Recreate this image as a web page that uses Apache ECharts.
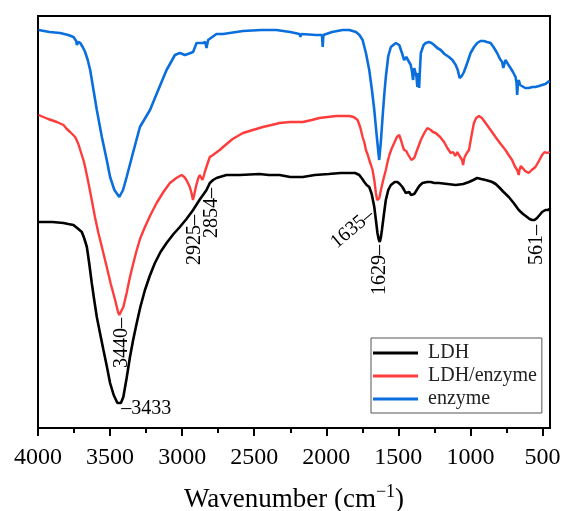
<!DOCTYPE html>
<html>
<head>
<meta charset="utf-8">
<script src="https://cdn.jsdelivr.net/npm/echarts@6/dist/echarts.min.js"></script>
<style>
  html, body { margin: 0; padding: 0; background: #fff; }
  #main { width: 563px; height: 511px; }
</style>
</head>
<body>
<div id="main"></div>
<script>
// FTIR spectra, transmittance in arbitrary units (offset stacked)
const ldhWn = [3996, 3900, 3823, 3790, 3754, 3720, 3696, 3680, 3661, 3645, 3627, 3610, 3592, 3570, 3546, 3523, 3500, 3475, 3449, 3436, 3425, 3408, 3385, 3362, 3340, 3315, 3290, 3258, 3225, 3189, 3150, 3108, 3060, 3016, 2970, 2924, 2880, 2831, 2808, 2785, 2762, 2693, 2600, 2463, 2400, 2324, 2250, 2163, 2080, 1983, 1900, 1840, 1800, 1771, 1750, 1736, 1720, 1702, 1685, 1667, 1655, 1645, 1637, 1629, 1622, 1614, 1600, 1587, 1570, 1552, 1541, 1525, 1506, 1490, 1472, 1460, 1449, 1437, 1425, 1412, 1402, 1390, 1379, 1355, 1333, 1300, 1275, 1250, 1218, 1160, 1102, 1050, 1010, 980, 953, 925, 895, 870, 849, 825, 803, 770, 734, 700, 665, 635, 607, 590, 572, 555, 538, 520, 503, 480, 462, 450];
const ldhT = [206, 206, 205, 204, 203, 199, 196, 190, 181, 165, 145, 128, 111, 95, 78, 62, 45, 33, 25, 23, 25, 31, 50, 71, 88, 105, 121, 138, 152, 165, 176, 185, 194, 201, 209, 218, 228, 238, 245, 248, 250, 253, 253, 254, 253, 253, 251, 251, 253, 254, 255, 255, 255, 253, 249, 246, 243, 241, 234, 221, 207, 195, 189, 186, 190, 198, 214, 228, 238, 243, 245, 246, 246, 244, 241, 238, 235, 237, 236, 233, 231, 234, 236, 242, 245, 246, 246, 245, 245, 244, 243, 244, 246, 248, 250, 249, 248, 247, 246, 244, 241, 236, 231, 225, 218, 214, 211, 209, 208, 208, 210, 213, 216, 218, 218, 219];

const ldhEnzWn = [3996, 3930, 3869, 3823, 3800, 3777, 3742, 3720, 3707, 3685, 3673, 3650, 3627, 3605, 3581, 3550, 3523, 3495, 3465, 3445, 3436, 3425, 3408, 3385, 3362, 3340, 3315, 3290, 3258, 3220, 3177, 3130, 3085, 3040, 3004, 2985, 2970, 2947, 2935, 2925, 2915, 2905, 2890, 2878, 2868, 2859, 2850, 2843, 2820, 2808, 2786, 2739, 2716, 2650, 2578, 2510, 2440, 2380, 2324, 2250, 2163, 2100, 2048, 1990, 1932, 1880, 1840, 1810, 1783, 1765, 1748, 1735, 1725, 1712, 1702, 1690, 1679, 1666, 1656, 1647, 1640, 1632, 1621, 1605, 1587, 1572, 1560, 1545, 1529, 1510, 1494, 1480, 1470, 1460, 1445, 1435, 1425, 1410, 1400, 1390, 1370, 1344, 1320, 1299, 1275, 1260, 1241, 1210, 1183, 1160, 1137, 1120, 1105, 1091, 1080, 1068, 1058, 1051, 1045, 1040, 1025, 1010, 993, 976, 960, 941, 920, 895, 860, 826, 790, 757, 735, 711, 693, 676, 670, 665, 660, 650, 642, 620, 596, 575, 549, 525, 503, 485, 468, 450];
const ldhEnzT = [313, 309, 306, 303, 299, 296, 291, 284, 278, 268, 261, 245, 228, 211, 195, 177, 161, 144, 128, 116, 113, 115, 121, 135, 151, 164, 178, 190, 201, 213, 225, 236, 245, 250, 253, 251, 248, 241, 235, 228, 234, 241, 249, 253, 252, 248, 252, 256, 266, 271, 273, 278, 281, 289, 295, 298, 301, 303, 305, 306, 306, 308, 310, 311, 312, 312, 312, 311, 308, 301, 291, 285, 278, 273, 268, 263, 258, 247, 235, 228, 226, 230, 238, 248, 258, 268, 274, 280, 285, 291, 293, 287, 282, 278, 277, 274, 273, 268, 270, 270, 278, 288, 295, 300, 298, 296, 295, 291, 286, 280, 275, 276, 272, 276, 273, 271, 268, 263, 268, 271, 275, 278, 292, 305, 310, 312, 310, 305, 298, 291, 284, 278, 273, 268, 262, 258, 256, 253, 258, 262, 261, 257, 255, 258, 261, 267, 273, 276, 275, 276];

const enzWn = [3996, 3920, 3846, 3790, 3754, 3735, 3730, 3722, 3707, 3690, 3673, 3655, 3638, 3615, 3592, 3557, 3523, 3500, 3470, 3436, 3410, 3385, 3345, 3293, 3223, 3166, 3108, 3050, 3016, 2981, 2960, 2924, 2900, 2870, 2855, 2840, 2831, 2820, 2808, 2762, 2716, 2578, 2450, 2347, 2250, 2186, 2180, 2174, 2071, 2030, 2025, 2020, 1960, 1887, 1840, 1794, 1770, 1748, 1725, 1702, 1685, 1667, 1650, 1633, 1629, 1622, 1610, 1598, 1587, 1570, 1552, 1535, 1517, 1494, 1475, 1460, 1445, 1437, 1414, 1405, 1398, 1390, 1384, 1375, 1368, 1362, 1356, 1348, 1344, 1325, 1310, 1287, 1270, 1252, 1230, 1206, 1180, 1149, 1125, 1102, 1088, 1075, 1060, 1045, 1020, 999, 975, 953, 930, 907, 885, 860, 840, 815, 795, 780, 772, 768, 763, 757, 740, 722, 705, 687, 680, 676, 670, 665, 655, 642, 620, 596, 570, 549, 525, 503, 480, 462, 450];
const enzT = [398, 396, 395, 393, 391, 387, 383, 386, 385, 381, 376, 368, 358, 338, 318, 291, 268, 251, 238, 231, 238, 251, 273, 301, 318, 338, 358, 373, 375, 373, 374, 376, 385, 385, 385, 386, 380, 388, 390, 394, 394, 397, 398, 398, 396, 394, 391, 394, 393, 393, 381, 393, 396, 398, 398, 396, 393, 388, 375, 358, 340, 318, 292, 268, 267, 285, 310, 333, 351, 372, 381, 383, 385, 383, 375, 368, 371, 370, 363, 356, 348, 360, 360, 352, 341, 355, 340, 365, 375, 383, 385, 386, 385, 383, 380, 378, 374, 371, 368, 363, 358, 350, 352, 356, 366, 375, 381, 385, 387, 387, 386, 385, 381, 375, 369, 366, 360, 358, 362, 368, 364, 360, 356, 351, 345, 333, 345, 348, 343, 343, 340, 340, 341, 341, 342, 343, 344, 346, 347];

const majorTicks = [4000, 3500, 3000, 2500, 2000, 1500, 1000, 500];
const minorTicks = [3750, 3250, 2750, 2250, 1750, 1250, 750];

const FONT = "'Liberation Serif', 'Times New Roman', serif";

function zip(xs, ys) {
  return xs.map((x, i) => [x, ys[i]]);
}

function valueAt(xs, ys, wn) {
  let best = 0;
  xs.forEach((x, i) => {
    if (Math.abs(x - wn) < Math.abs(xs[best] - wn)) best = i;
  });
  return ys[best];
}

// peak label hung from a point of a curve (offset is in the rotated text frame)
function note(xs, ys, wn, text, rotate, align, offset) {
  return {
    coord: [wn, valueAt(xs, ys, wn)],
    symbol: 'circle',
    symbolSize: 1,
    itemStyle: { color: 'transparent' },
    label: {
      show: true,
      formatter: text,
      position: 'inside',
      rotate: rotate,
      align: align,
      verticalAlign: 'middle',
      offset: offset,
      color: '#000',
      fontFamily: FONT,
      fontSize: 20
    }
  };
}

const chart = echarts.init(document.getElementById('main'), null, { renderer: 'canvas' });

const option = {
  animation: false,
  backgroundColor: '#fff',
  grid: {
    left: 38,
    right: 13,
    top: 16,
    bottom: 83,
    outerBoundsMode: 'none',
    containLabel: false,
    show: true,
    borderColor: '#000',
    borderWidth: 2
  },
  legend: {
    orient: 'vertical',
    left: 371,
    top: 338,
    width: 167,
    padding: [5, 5, 4, 2],
    itemGap: 3,
    itemWidth: 45,
    itemHeight: 3,
    icon: 'rect',
    borderColor: '#555',
    borderWidth: 1,
    backgroundColor: '#fff',
    textStyle: {
      fontFamily: FONT,
      fontSize: 20,
      color: '#222',
      padding: [0, 0, 0, 5]
    },
    data: ['LDH', 'LDH/enzyme', 'enzyme']
  },
  xAxis: [{
    type: 'value',
    inverse: true,
    min: 448,
    max: 4000,
    position: 'bottom',
    axisLine: { show: true, lineStyle: { color: '#000', width: 2 } },
    axisTick: {
      show: true,
      inside: false,
      length: 8,
      customValues: majorTicks,
      lineStyle: { color: '#000', width: 2 }
    },
    axisLabel: {
      customValues: majorTicks,
      formatter: v => String(v),
      margin: 18,
      color: '#000',
      fontFamily: FONT,
      fontSize: 24
    },
    splitLine: { show: false },
    name: 'Wavenumber (cm{sup|−1})',
    nameLocation: 'middle',
    nameGap: 55,
    nameTextStyle: {
      color: '#000',
      fontFamily: FONT,
      fontSize: 27,
      rich: {
        sup: { fontFamily: FONT, fontSize: 18, color: '#000', padding: [0, 0, 15, 0] }
      }
    }
  }, {
    type: 'value',
    inverse: true,
    min: 448,
    max: 4000,
    position: 'bottom',
    axisLine: { show: false },
    axisTick: {
      show: true,
      length: 5,
      customValues: minorTicks,
      lineStyle: { color: '#000', width: 2 }
    },
    axisLabel: { show: false },
    splitLine: { show: false }
  }],
  yAxis: {
    type: 'value',
    min: 0,
    max: 412,
    axisLine: { show: true, lineStyle: { color: '#000', width: 2 } },
    axisTick: { show: false },
    axisLabel: { show: false },
    splitLine: { show: false }
  },
  series: [{
    name: 'LDH',
    type: 'line',
    symbol: 'none',
    color: '#000000',
    lineStyle: { width: 2.6 },
    data: zip(ldhWn, ldhT),
    z: 3,
    markPoint: {
      data: [
        note(ldhWn, ldhT, 3436, '–3433', 0, 'left', [2, 4]),
        note(ldhWn, ldhT, 2808, '2854–', 90, 'right', [-5, 2]),
        note(ldhWn, ldhT, 1629, '1629–', 90, 'right', [-3, 0]),
        note(ldhWn, ldhT, 555, '561–', 90, 'right', [-5, 2])
      ]
    }
  }, {
    name: 'LDH/enzyme',
    type: 'line',
    symbol: 'none',
    color: '#ff3c3c',
    lineStyle: { width: 2.4 },
    data: zip(ldhEnzWn, ldhEnzT),
    z: 2,
    markPoint: {
      data: [
        note(ldhEnzWn, ldhEnzT, 3436, '3440–', 90, 'right', [-3, 2]),
        note(ldhEnzWn, ldhEnzT, 2925, '2925–', 90, 'right', [-15, 2]),
        note(ldhEnzWn, ldhEnzT, 1640, '1635–', 40, 'right', [-12, 4])
      ]
    }
  }, {
    name: 'enzyme',
    type: 'line',
    symbol: 'none',
    color: '#0a6fdc',
    lineStyle: { width: 2.6 },
    data: zip(enzWn, enzT),
    z: 1
  }]
};

chart.setOption(option);
</script>
</body>
</html>
